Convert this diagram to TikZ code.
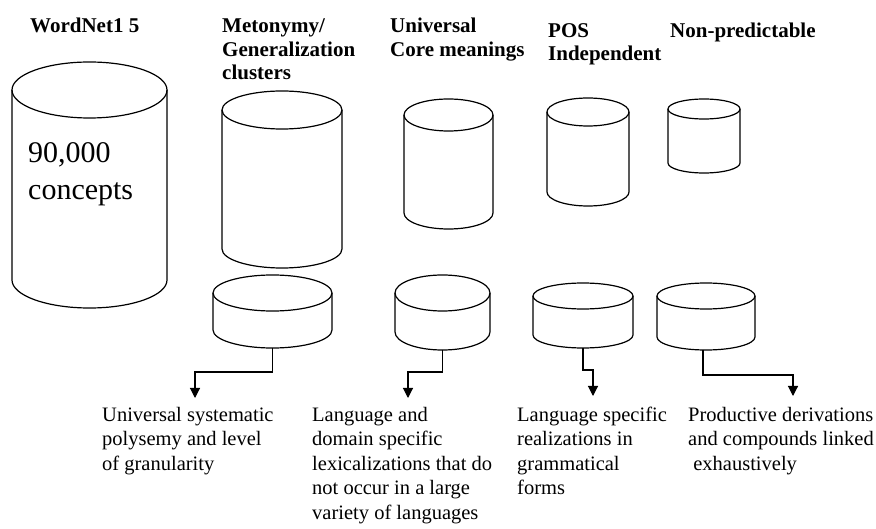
\documentclass[tikz,border=0pt]{standalone}
\usepackage{fontspec}
\setmainfont{Liberation Serif}
\usetikzlibrary{arrows.meta}
\tikzset{
  cylline/.style={line width=1.2pt, line join=round},
  lab/.style={font=\bfseries\fontsize{21}{23.5}\selectfont, align=left, anchor=base west, inner sep=0pt},
  desc/.style={font=\fontsize{20.5}{24.5}\selectfont, align=left, anchor=base west, inner sep=0pt},
  big/.style={font=\fontsize{30}{37}\selectfont, align=left, anchor=base west, inner sep=0pt},
  conn/.style={line width=1.1pt, -{Triangle[width=10pt,length=10pt]}},
}
% name, cx, ytop, ybot, rx, ry
\newcommand\mycyl[6]{%
  \draw[cylline] (#2-#5,#3) -- (#2-#5,#4) arc[start angle=180,end angle=360,x radius=#5pt,y radius=#6pt] -- (#2+#5,#3);
  \draw[cylline] (#2,#3) ellipse[x radius=#5pt,y radius=#6pt];
  \pgfmathsetmacro\cylw{2*#5}%
  \pgfmathsetmacro\cylh{#4-#3+2*#6}%
  \node[inner sep=0pt, outer sep=0pt, minimum width=\cylw pt, minimum height=\cylh pt] (#1) at (#2,{(#3+#4)/2}) {};
}
\begin{document}
\begin{tikzpicture}[x=1pt,y=-1pt]
\useasboundingbox[fill=white] (0,0) rectangle (876,529);
% top row
\mycyl{wn}{89.5}{90}{280}{77.5}{28}
\mycyl{met}{282}{110}{249}{60}{19}
\mycyl{uni}{448.5}{115}{213}{44.5}{16}
\mycyl{pos}{588}{112}{192}{41}{14}
\mycyl{np}{704}{109}{163}{36}{10}
% bottom row
\mycyl{ba}{272.5}{293}{330}{59.5}{18}
\mycyl{bb}{442.5}{293}{332}{47.5}{18}
\mycyl{bc}{583}{296}{335}{50}{13}
\mycyl{bd}{706}{296}{337}{49}{13}
% labels (anchor = baseline of last line)
\node[lab] (lwn) at (30,33) {WordNet1 5};
\node[lab] (lmet) at (222,80) {Metonymy/\\Generalization\\clusters};
\node[lab] (luni) at (390,56.5) {Universal\\Core meanings};
\node[lab] (lpos) at (548,61) {POS\\Independent};
\node[lab] (lnp) at (670,38) {Non-predictable};
\node[big] (conc) at (28,200) {90,000\\concepts};
% descriptions
\node[desc] (ta) at (102,470) {Universal systematic\\polysemy and level\\of granularity};
\node[desc] (tb) at (312,519) {Language and\\domain specific\\lexicalizations that do\\not occur in a large\\variety of languages};
\node[desc] (tc) at (517,494.5) {Language specific\\realizations in\\grammatical\\forms};
\node[desc] (td) at (688,470) {Productive derivations\\and compounds linked\\\ exhaustively};
% connector points
\coordinate (ka) at (195,372); \coordinate (aa) at (195,398);
\coordinate (kb) at (408,372); \coordinate (ab) at (408,398);
\coordinate (kc) at (593,370); \coordinate (ac) at (593,396);
\coordinate (kd) at (793,375); \coordinate (ad) at (793,396);
\draw[conn] (ba.south) |- (ka) -- (aa);
\draw[conn] (bb.south) |- (kb) -- (ab);
\draw[conn] (bc.south) |- (kc) -- (ac);
\draw[conn] (bd.south -| 703,0) |- (kd) -- (ad);
\end{tikzpicture}
\end{document}
